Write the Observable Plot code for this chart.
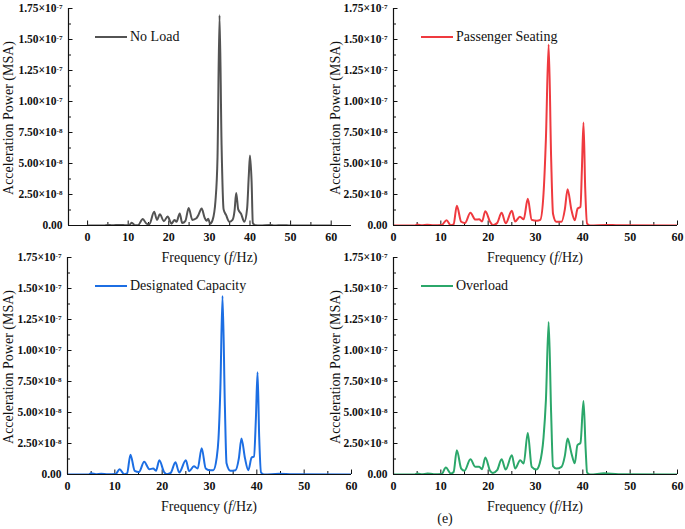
<!DOCTYPE html>
<html><head><meta charset="utf-8">
<script src="https://cdn.jsdelivr.net/npm/d3@7"></script>
<script src="https://cdn.jsdelivr.net/npm/@observablehq/plot@0.6"></script>
<style>
body{margin:0;background:#fff;}
#fig{position:relative;width:685px;height:529px;font-family:"Liberation Serif","Times New Roman",serif;overflow:hidden;background:#fff;color:#111;}
.panel{position:absolute;}
.panel text{font-family:"Liberation Serif","Times New Roman",serif !important;}
.ytitle{position:absolute;font-size:14px;white-space:nowrap;transform:translate(-50%,-50%) rotate(-90deg);}
.xtitle{position:absolute;font-size:14px;white-space:nowrap;transform:translate(-50%,-50%);}
.legend{position:absolute;font-size:14px;white-space:nowrap;display:flex;align-items:center;transform:translateY(-50%);}
.legend .sw{display:inline-block;width:32px;height:2.5px;margin-right:3px;}
</style>
</head><body>
<div id="fig"></div>
<script>
// ---- tick values and labels ----
const freqTicks = [0, 10, 20, 30, 40, 50, 60];
const freqMinorTicks = [5, 15, 25, 35, 45, 55];
const powerTicks = [0, 2.5e-8, 5.0e-8, 7.5e-8, 1.0e-7, 1.25e-7, 1.5e-7, 1.75e-7];
const powerTickLabels = ["0.00", "2.50×10^-8", "5.00×10^-8", "7.50×10^-8", "1.00×10^-7", "1.25×10^-7", "1.50×10^-7", "1.75×10^-7"];
const powerMinorTicks = [1.25e-8, 3.75e-8, 6.25e-8, 8.75e-8, 1.125e-7, 1.375e-7, 1.625e-7];

// ---- series names ----
const seriesNames = ["No Load", "Passenger Seating", "Designated Capacity", "Overload"];

// ---- No Load (frequency Hz, power in units of 1e-8 MSA) ----
const noLoadHz  = [0, 4, 5, 6, 8, 9.5, 10.3, 10.9, 11.6, 12.4, 13.6, 14.5, 15.2, 16.4, 17.1, 17.8, 18.8, 19.7, 20.7, 21.4, 21.9, 22.7, 23.3, 24.1, 24.9, 25.8, 26.8, 27.3, 28.1, 28.8, 29.3, 29.7, 30.2, 30.8, 31.5, 32.0, 32.5, 33.0, 33.5, 34.1, 34.9, 35.7, 36.2, 36.6, 37.1, 37.8, 38.6, 39.3, 39.7, 40.0, 40.4, 40.7, 41.3, 42.5, 45, 46, 48, 50, 60];
const noLoadVal = [0, 0, 0.05, 0.02, 0.05, 0.02, 0.05, 0.22, 0.03, 0.02, 0.52, 0.15, 0.1, 1.1, 0.45, 0.9, 0.35, 0.72, 0.15, 0.45, 0.3, 0.97, 0.2, 0.38, 1.42, 0.45, 0.58, 0.85, 1.37, 0.65, 0.38, 0.55, 0.15, 0.45, 2.0, 5.5, 16.95, 6.5, 1.3, 0.85, 0.3, 0.45, 1.2, 2.62, 1.3, 0.95, 0.3, 1.4, 4.0, 5.65, 3.5, 0.2, 0.02, 0, 0.05, 0, 0.03, 0, 0];

// ---- Passenger Seating ----
const seatingHz  = [0, 4.5, 5.0, 6, 7.1, 8.5, 10.2, 11.2, 12.1, 12.7, 13.38, 14.3, 15.1, 16.25, 17.3, 18.1, 18.7, 19.4, 20.4, 21.0, 21.9, 22.84, 23.7, 25.0, 25.7, 26.7, 27.5, 28.37, 29.2, 30.3, 31.0, 31.7, 32.2, 32.78, 33.3, 33.7, 34.4, 35.5, 36.2, 36.78, 37.6, 38.3, 38.9, 39.5, 39.8, 40.14, 40.5, 40.9, 41.6, 45, 47.5, 60];
const seatingVal = [0, 0, 0.08, 0.02, 0.06, 0.03, 0.05, 0.43, 0.02, 0.1, 1.6, 0.3, 0.2, 1.02, 0.48, 0.5, 0.32, 1.15, 0.3, 0.03, 0.2, 1.02, 0.18, 1.18, 0.32, 0.7, 0.5, 2.15, 0.45, 0.38, 0.45, 2.6, 7, 14.6, 5.5, 0.95, 0.3, 0.3, 1.3, 2.93, 1.24, 0.43, 1.37, 1.5, 4.5, 8.3, 3, 0.15, 0, 0.05, 0.02, 0];

// ---- Designated Capacity ----
const capacityHz  = [0, 4.5, 5.0, 6, 7.1, 8.5, 10.2, 11.0, 12.0, 12.6, 13.3, 14.2, 15.1, 16.2, 17.3, 18.1, 18.7, 19.4, 20.4, 21.0, 21.8, 22.8, 23.6, 25.0, 25.7, 26.7, 27.5, 28.35, 29.2, 30.0, 30.8, 31.5, 31.9, 32.3, 32.75, 33.25, 33.6, 34.4, 35.5, 36.2, 36.75, 37.5, 38.2, 38.9, 39.4, 39.8, 40.15, 40.5, 40.9, 41.6, 44.7, 47.5, 60];
const capacityVal = [0, 0, 0.1, 0.02, 0.06, 0.03, 0.05, 0.43, 0.02, 0.1, 1.6, 0.3, 0.2, 1.02, 0.43, 0.48, 0.3, 1.15, 0.2, 0.03, 0.13, 0.99, 0.16, 1.15, 0.27, 0.67, 0.48, 2.12, 0.48, 0.35, 0.35, 1.3, 2.9, 7, 14.4, 5.5, 0.9, 0.3, 0.35, 1.3, 2.9, 1.3, 0.35, 1.37, 1.45, 4.5, 8.25, 3, 0.15, 0, 0.06, 0.02, 0];

// ---- Overload ----
const overloadHz  = [0, 4.5, 5.1, 6, 7.2, 8.5, 10.2, 11.05, 12.1, 12.7, 13.38, 14.3, 15.0, 16.25, 17.3, 18.1, 18.7, 19.4, 20.4, 21.0, 21.9, 22.84, 23.7, 25.0, 25.7, 26.76, 27.5, 28.37, 29.2, 30.2, 30.9, 31.7, 32.2, 32.78, 33.3, 33.7, 34.4, 35.5, 36.2, 36.78, 37.6, 38.3, 38.85, 39.5, 40.14, 40.6, 40.9, 41.6, 44.5, 47.5, 60];
const overloadVal = [0, 0, 0.08, 0.02, 0.08, 0.03, 0.05, 0.56, 0.08, 0.2, 1.96, 0.48, 0.3, 1.23, 0.62, 0.62, 0.43, 1.37, 0.3, 0.13, 0.35, 1.23, 0.4, 1.55, 0.48, 1.15, 0.88, 3.35, 0.62, 0.4, 0.9, 3.0, 6, 12.3, 5, 0.67, 0.48, 0.62, 1.5, 2.9, 1.7, 0.9, 2.36, 2.55, 5.93, 2, 0.15, 0, 0.1, 0.02, 0];

const UNIT = 1e-8;
const fig = document.getElementById("fig");
const SERIF = "Liberation Serif, Times New Roman, serif";

const panels = [
  {name: seriesNames[0], hz: noLoadHz,   val: noLoadVal,   color: "#535353", left: 0,   top: 0,   ml: 68, mr: 4, mt: 8, mb: 45, xDomain: [-4.7, 65]},
  {name: seriesNames[1], hz: seatingHz,  val: seatingVal,  color: "#ef3a3f", left: 330, top: 0,   ml: 63, mr: 8, mt: 8, mb: 45, xDomain: [0, 60]},
  {name: seriesNames[2], hz: capacityHz, val: capacityVal, color: "#1c6ee3", left: 0,   top: 250, ml: 67, mr: 4, mt: 7, mb: 46, xDomain: [0, 60]},
  {name: seriesNames[3], hz: overloadHz, val: overloadVal, color: "#2ba76a", left: 330, top: 250, ml: 63, mr: 8, mt: 7, mb: 46, xDomain: [0, 60]}
];

const W = 355, H = 270;
for (const p of panels) {
  const fw = W - p.ml - p.mr, fh = H - p.mt - p.mb;
  const data = p.hz.map((h, i) => ({hz: h, power: p.val[i] * UNIT}));
  const minor = freqMinorTicks.filter(d => d > p.xDomain[0] && d < p.xDomain[1]);
  const svg = Plot.plot({
    width: W, height: H,
    marginLeft: p.ml, marginRight: p.mr, marginTop: p.mt, marginBottom: p.mb,
    style: {background: "transparent", overflow: "visible", color: "#111"},
    x: {domain: p.xDomain},
    y: {domain: [0, 1.75e-7]},
    marks: [
      Plot.axisX({ticks: freqTicks, tickSize: 0, tickPadding: 7, label: null, fontWeight: "bold", fontSize: 12, fontFamily: SERIF, tickFormat: d => String(d)}),
      Plot.axisY({ticks: powerTicks, tickSize: 0, tickPadding: 6, label: null, fontWeight: "bold", fontSize: 11.5, fontFamily: SERIF,
                  tickFormat: d => powerTickLabels[powerTicks.indexOf(d)]}),
      Plot.ruleX(freqTicks, {x: d => d, insetTop: fh - 4.5, stroke: "#111"}),
      Plot.ruleX(minor, {x: d => d, insetTop: fh - 3, stroke: "#111"}),
      Plot.ruleY(powerTicks, {y: d => d, insetRight: fw - 4.5, stroke: "#111"}),
      Plot.ruleY(powerMinorTicks, {y: d => d, insetRight: fw - 3, stroke: "#111"}),
      Plot.line(data, {x: "hz", y: "power", stroke: p.color, strokeWidth: 2, curve: "monotone-x", clip: true}),
      Plot.ruleX([p.xDomain[0]], {stroke: "#111", strokeWidth: 1.2}),
      Plot.ruleY([0], {stroke: "#111", strokeWidth: 1.2})
    ]
  });
  // serif font everywhere and superscript exponents in tick labels
  svg.querySelectorAll("text").forEach(t => {
    t.setAttribute("font-family", SERIF);
    t.style.fontFamily = SERIF;
    const s = t.textContent;
    if (s.includes("^")) {
      const [b, e] = s.split("^");
      t.textContent = b;
      const ts = document.createElementNS("http://www.w3.org/2000/svg", "tspan");
      ts.setAttribute("dy", "-0.45em");
      ts.setAttribute("font-size", "0.62em");
      ts.textContent = e;
      t.appendChild(ts);
    }
  });
  svg.classList.add("panel");
  svg.style.left = p.left + "px";
  svg.style.top = p.top + "px";
  svg.style.position = "absolute";
  fig.appendChild(svg);

  const x0 = p.left + p.ml, x1 = p.left + W - p.mr;
  const y0 = p.top + p.mt, y1 = p.top + H - p.mb;

  // y title
  const yt = document.createElement("div");
  yt.className = "ytitle";
  yt.textContent = "Acceleration Power (MSA)";
  yt.style.left = (p.left === 0 ? 9 : 336) + "px";
  yt.style.top = ((y0 + y1) / 2 + 1) + "px";
  fig.appendChild(yt);

  // x title
  const xt = document.createElement("div");
  xt.className = "xtitle";
  xt.innerHTML = "Frequency (<i>f</i>/Hz)";
  xt.style.left = ((x0 + x1) / 2) + "px";
  xt.style.top = (y1 + 33) + "px";
  fig.appendChild(xt);

  // legend
  const lg = document.createElement("div");
  lg.className = "legend";
  lg.innerHTML = `<span class="sw" style="background:${p.color}"></span><span>${p.name}</span>`;
  lg.style.left = (p.left === 0 ? 95 : 421) + "px";
  lg.style.top = (p.top + (p.top === 0 ? 37 : 36)) + "px";
  fig.appendChild(lg);
}

const cap = document.createElement("div");
cap.className = "xtitle";
cap.textContent = "(e)";
cap.style.left = "445px";
cap.style.top = "519px";
fig.appendChild(cap);
</script>
</body></html>
